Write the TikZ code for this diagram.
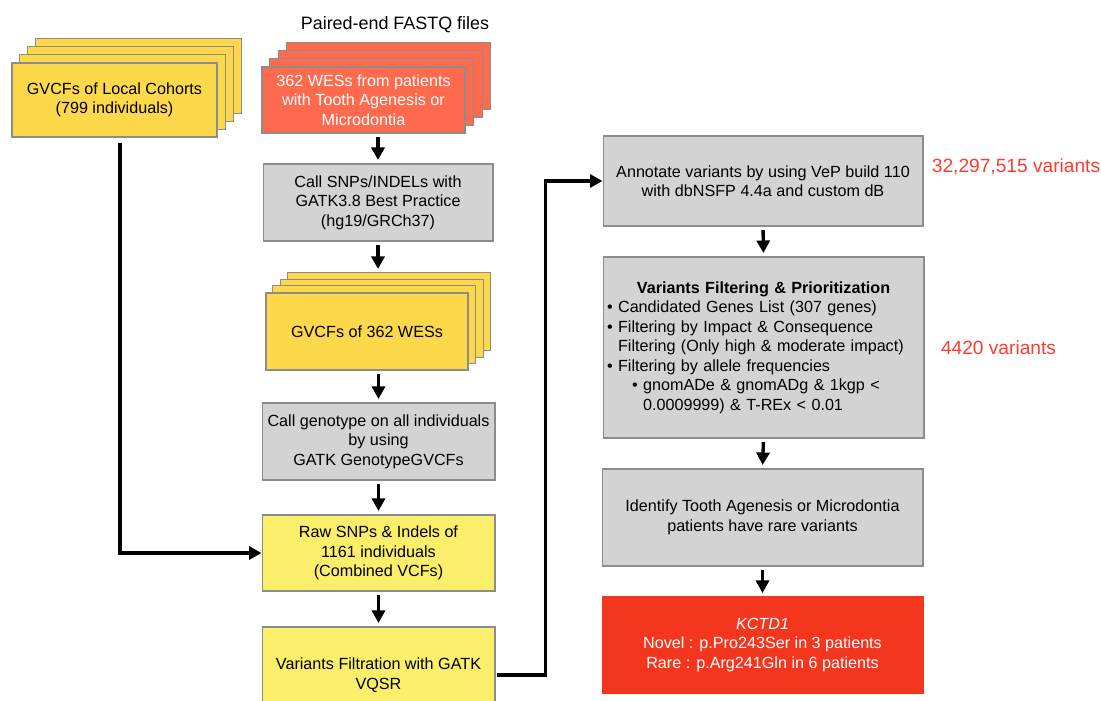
\documentclass[tikz,border=0pt]{standalone}
\usepackage{fontspec}
\setmainfont{Liberation Sans}
\usetikzlibrary{arrows.meta,backgrounds}

\definecolor{gvcfyellow}{HTML}{FCD84A}
\definecolor{rawyellow}{HTML}{FBEE6B}
\definecolor{fastqred}{HTML}{FE6A4E}
\definecolor{boxgray}{HTML}{D3D3D3}
\definecolor{hitred}{HTML}{F5361F}
\definecolor{numred}{HTML}{FF3B30}
\definecolor{edgegray}{HTML}{8C8C8C}

\begin{document}
\begin{tikzpicture}[x=0.02cm, y=-0.02cm, >={Triangle[length=2.5mm,width=2.6mm]}]
  % Styles des boîtes et des flèches
  \tikzset{
    stackbox/.style={draw=edgegray, line width=0.6pt, align=center, inner sep=2pt,
      font=\fontsize{9.2}{11.1}\selectfont},
    greybox/.style={stackbox, fill=boxgray},
    rawbox/.style={stackbox, fill=rawyellow},
    hitbox/.style={stackbox, draw=hitred, fill=hitred, text=white},
    flow/.style={->, line width=1.9pt, shorten <=2pt, shorten >=2pt},
    link/.style={->, line width=1.9pt},
    tally/.style={text=numred, font=\fontsize{10.9}{13}\selectfont}
  }

  % Cadre de l'image
  \useasboundingbox (0,0) rectangle (1101,700);

  % --- Entrées ---
  \node[font=\fontsize{10.2}{12}\selectfont] (fqlabel) at (395,25) {Paired-end FASTQ files};

  \node[stackbox, fill=gvcfyellow, minimum width=4.1cm, minimum height=1.48cm] (local) at (114.5,100)
    {GVCFs of Local Cohorts\\(799 individuals)};
  \node[stackbox, fill=fastqred, text=white, minimum width=4.06cm, minimum height=1.32cm] (fastq) at (363.5,100)
    {362 WESs from patients\\with Tooth Agenesis or\\Microdontia};

  % --- Colonne gauche ---
  \node[greybox, minimum width=4.6cm, minimum height=1.54cm] (snps) at (378,202.5)
    {Call SNPs/INDELs with\\GATK3.8 Best Practice\\(hg19/GRCh37)};
  \node[stackbox, fill=gvcfyellow, minimum width=4.04cm, minimum height=1.54cm] (gvcf) at (367,331.5)
    {GVCFs of 362 WESs};
  \node[greybox, minimum width=4.66cm, minimum height=1.54cm] (geno) at (378.5,441.5)
    {Call genotype on all individuals\\by using\\GATK GenotypeGVCFs};
  \node[rawbox, minimum width=4.66cm, minimum height=1.52cm] (raw) at (378.5,553)
    {Raw SNPs \& Indels of\\1161 individuals\\(Combined VCFs)};
  \node[rawbox, minimum width=4.66cm, minimum height=1.92cm] (vqsr) at (378.5,675)
    {Variants Filtration with GATK\\VQSR};

  % Copies empilées derrière les fichiers
  \begin{scope}[on background layer]
    \foreach \i in {3,2,1} {
      \draw[stackbox, fill=gvcfyellow] ([shift={(8*\i,-8*\i)}]local.south west) rectangle ([shift={(8*\i,-8*\i)}]local.north east);
      \draw[stackbox, fill=fastqred] ([shift={(8.3*\i,-8*\i)}]fastq.south west) rectangle ([shift={(8.3*\i,-8*\i)}]fastq.north east);
      \draw[stackbox, fill=gvcfyellow] ([shift={(7.3*\i,-6.7*\i)}]gvcf.south west) rectangle ([shift={(7.3*\i,-6.7*\i)}]gvcf.north east);
    }
  \end{scope}
  \coordinate (gvcftop) at ([yshift=0.4cm]gvcf.north);

  % --- Colonne droite ---
  \node[greybox, minimum width=6.4cm, minimum height=1.8cm] (annot) at (763,181)
    {Annotate variants by using VeP build 110\\with dbNSFP 4.4a and custom dB};
  \node[greybox, minimum width=6.42cm, minimum height=3.62cm, text width=6.26cm, align=left] (filt) at (763.5,347.5)
    {\makebox[6.26cm]{\textbf{Variants Filtering \& Prioritization}}\\
     \textbullet\ Candidated Genes List (307 genes)\\
     \textbullet\ Filtering by Impact \& Consequence\\
     \phantom{\textbullet\ }Filtering (Only high \& moderate impact)\\
     \textbullet\ Filtering by allele frequencies\\
     \hspace*{0.5cm}\textbullet\ gnomADe \& gnomADg \& 1kgp <\\
     \hspace*{0.5cm}\phantom{\textbullet\ }0.0009999) \& T-REx < 0.01};
  \node[greybox, minimum width=6.42cm, minimum height=1.94cm] (ident) at (762.5,517.5)
    {Identify Tooth Agenesis or Microdontia\\patients have rare variants};
  \node[hitbox, minimum width=6.42cm, minimum height=1.92cm] (kctd) at (762.5,645)
    {\textit{KCTD1}\\Novel : p.Pro243Ser in 3 patients\\Rare : p.Arg241Gln in 6 patients};

  % Nombre de variants
  \node[tally] (nbannot) at (1016,167) {32,297,515 variants};
  \node[tally] (nbfilt) at (998.5,348) {4420 variants};

  % --- Flèches ---
  \draw[flow] (fastq.south -| snps.north) -- (snps.north);
  \draw[flow] (snps.south) -- (snps.south |- gvcftop);
  \draw[flow] (gvcf.south -| geno.north) -- (geno.north);
  \draw[flow] (geno.south) -- (raw.north);
  \draw[flow] (raw.south) -- (vqsr.north);
  \draw[flow] (annot.south) -- (filt.north);
  \draw[flow] (filt.south) -- (ident.north);
  \draw[flow] (ident.south) -- (kctd.north);

  % Liaisons coudées
  \draw[link, shorten <=3pt] ([xshift=0.11cm]local.south) |- (raw.west);
  \draw[link, shorten <=1pt] (vqsr.east) -- ++(1cm,0) |- (annot.west);

\end{tikzpicture}
\end{document}
